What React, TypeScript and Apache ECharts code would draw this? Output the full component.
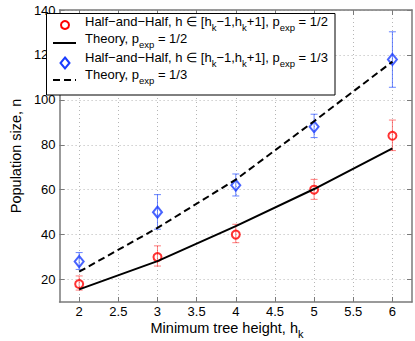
import React, { useEffect, useRef } from 'react';
import * as echarts from 'echarts';

const hk = [2, 3, 4, 5, 6];
const halfMean = [18, 30, 40, 60, 84];
const halfLow = [15.3, 26, 36.4, 55.7, 77.4];
const halfHigh = [21.6, 35, 44.6, 64.6, 91];
const thirdMean = [28, 50, 62, 88, 118];
const thirdLow = [24.5, 42.4, 57.2, 83.2, 105.6];
const thirdHigh = [32, 57.8, 67, 93.6, 130.3];
const theoryHalf = [15.6, 28.2, 43.8, 60.3, 78.4];
const theoryThird = [23.5, 43, 64.5, 90.5, 117];
const xTicks = [2, 2.5, 3, 3.5, 4, 4.5, 5, 5.5, 6];
const yTicks = [20, 40, 60, 80, 100, 120, 140];

const FONT = "'Liberation Sans', Arial, Helvetica, sans-serif";
const RED = '#ff0000';
const RED_ERR = 'rgba(255,40,40,0.6)';
const BLUE = '#1a3cff';
const BLUE_ERR = 'rgba(40,80,255,0.7)';
const AXIS = '#7a7a7a';

type Seg = [string, boolean];

function measure(text: string, size: number): number {
  const ctx = document.createElement('canvas').getContext('2d')!;
  ctx.font = `${size}px ${FONT}`;
  return ctx.measureText(text).width;
}

function richLine(segs: Seg[], x: number, y: number, size: number, subSize: number, subDy: number, center = false) {
  let total = 0;
  segs.forEach(([t, s]) => (total += measure(t, s ? subSize : size)));
  let cx = center ? x - total / 2 : x;
  const els: any[] = [];
  segs.forEach(([t, s]) => {
    const fs = s ? subSize : size;
    els.push({
      type: 'text',
      x: cx,
      y: s ? y + subDy : y,
      z: 100,
      style: { text: t, fontSize: fs, fontFamily: FONT, fill: '#000', align: 'left', verticalAlign: 'middle' },
    });
    cx += measure(t, fs);
  });
  return els;
}

function errSeries(low: number[], high: number[], color: string) {
  return {
    type: 'custom',
    z: 2,
    data: hk.map((x, i) => [x, low[i], high[i]]),
    encode: { x: 0, y: [1, 2] },
    renderItem: (_p: any, api: any) => {
      const lo = api.coord([api.value(0), api.value(1)]);
      const hi = api.coord([api.value(0), api.value(2)]);
      const w = 3.5;
      const st = { stroke: color, lineWidth: 1 };
      return {
        type: 'group',
        children: [
          { type: 'line', shape: { x1: lo[0], y1: lo[1], x2: hi[0], y2: hi[1] }, style: st },
          { type: 'line', shape: { x1: lo[0] - w, y1: lo[1], x2: lo[0] + w, y2: lo[1] }, style: st },
          { type: 'line', shape: { x1: hi[0] - w, y1: hi[1], x2: hi[0] + w, y2: hi[1] }, style: st },
        ],
      };
    },
  };
}

export default function App() {
  const ref = useRef<HTMLDivElement>(null);
  useEffect(() => {
    const chart = echarts.init(ref.current!, null, { renderer: 'svg' });
    const row1: Seg[] = [
      ['Half\u2212and\u2212Half, h \u2208 [h', false], ['k', true], ['\u22121,h', false], ['k', true],
      ['+1], p', false], ['exp', true], [' = 1/2', false],
    ];
    const row2: Seg[] = [['Theory, p', false], ['exp', true], [' = 1/2', false]];
    const row3: Seg[] = [
      ['Half\u2212and\u2212Half, h \u2208 [h', false], ['k', true], ['\u22121,h', false], ['k', true],
      ['+1], p', false], ['exp', true], [' = 1/3', false],
    ];
    const row4: Seg[] = [['Theory, p', false], ['exp', true], [' = 1/3', false]];
    const LS = 13, SS = 9.5, SD = 6, TX = 85;
    const legend: any[] = [
      { type: 'rect', z: 99, shape: { x: 46.5, y: 13.5, width: 288.5, height: 81.5 }, style: { fill: '#fff', stroke: '#000', lineWidth: 1 } },
      { type: 'circle', z: 100, shape: { cx: 65, cy: 25, r: 4 }, style: { fill: 'none', stroke: RED, lineWidth: 2 } },
      { type: 'line', z: 100, shape: { x1: 53, y1: 43, x2: 76, y2: 43 }, style: { stroke: '#000', lineWidth: 2 } },
      { type: 'polygon', z: 100, shape: { points: [[65, 57.5], [69.5, 63], [65, 68.5], [60.5, 63]] }, style: { fill: 'none', stroke: BLUE, lineWidth: 2 } },
      { type: 'line', z: 100, shape: { x1: 53, y1: 80, x2: 76, y2: 80 }, style: { stroke: '#000', lineWidth: 2, lineDash: [7, 4] } },
      ...richLine(row1, TX, 21.5, LS, SS, SD),
      ...richLine(row2, TX, 38.8, LS, SS, SD),
      ...richLine(row3, TX, 57.5, LS, SS, SD),
      ...richLine(row4, TX, 74.5, LS, SS, SD),
      ...richLine([['Minimum tree height, h', false], ['k', true]], 227, 327.5, 14.5, 11, 6, true),
    ];
    const tickStyle = { inside: true, length: 5, lineStyle: { color: AXIS, width: 1 } };
    const lineStyle = { show: true, lineStyle: { color: AXIS, width: 1.5 } };
    const split = { show: true, lineStyle: { color: '#b5b5b5', width: 1, type: [1, 3] as any } };
    chart.setOption({
      animation: false,
      grid: { left: 43, top: 10, right: 3, bottom: 39 },
      xAxis: [
        {
          type: 'value', min: 1.75, max: 6.25, position: 'bottom',
          axisLine: lineStyle,
          axisTick: { ...tickStyle, customValues: xTicks },
          axisLabel: { customValues: xTicks, color: '#000', fontSize: 13, fontFamily: FONT, margin: 3 },
          splitLine: split,
        },
        {
          type: 'value', min: 1.75, max: 6.25, position: 'top',
          axisLine: lineStyle,
          axisTick: { ...tickStyle, customValues: xTicks },
          axisLabel: { show: false, customValues: xTicks },
          splitLine: { show: false },
        },
      ],
      yAxis: [
        {
          type: 'value', min: 10, max: 140, position: 'left',
          axisLine: lineStyle,
          axisTick: { ...tickStyle, customValues: yTicks },
          axisLabel: { customValues: yTicks, color: '#000', fontSize: 13, fontFamily: FONT, margin: 4 },
          splitLine: split,
          name: 'Population size, n', nameLocation: 'middle', nameGap: 31,
          nameTextStyle: { fontSize: 14.5, fontFamily: FONT, color: '#000' },
        },
        {
          type: 'value', min: 10, max: 140, position: 'right',
          axisLine: lineStyle,
          axisTick: { ...tickStyle, customValues: yTicks },
          axisLabel: { show: false, customValues: yTicks },
          splitLine: { show: false },
        },
      ],
      series: [
        errSeries(halfLow, halfHigh, RED_ERR),
        {
          type: 'scatter', z: 3, data: hk.map((x, i) => [x, halfMean[i]]),
          symbol: 'circle', symbolSize: 8,
          itemStyle: { color: 'transparent', borderColor: RED, borderWidth: 2 },
        },
        {
          type: 'line', z: 4, data: hk.map((x, i) => [x, theoryHalf[i]]),
          showSymbol: false, symbol: 'none', lineStyle: { color: '#000', width: 2 },
        },
        errSeries(thirdLow, thirdHigh, BLUE_ERR),
        {
          type: 'scatter', z: 3, data: hk.map((x, i) => [x, thirdMean[i]]),
          symbol: 'diamond', symbolSize: [9, 11],
          itemStyle: { color: 'transparent', borderColor: BLUE, borderWidth: 2 },
        },
        {
          type: 'line', z: 4, data: hk.map((x, i) => [x, theoryThird[i]]),
          showSymbol: false, symbol: 'none', lineStyle: { color: '#000', width: 2, type: [7, 4] },
        },
      ],
      graphic: legend,
    });
    return () => chart.dispose();
  }, []);
  return <div ref={ref} style={{ position: 'absolute', left: 0, top: 0, width: 415, height: 341, background: '#fff' }} />;
}
